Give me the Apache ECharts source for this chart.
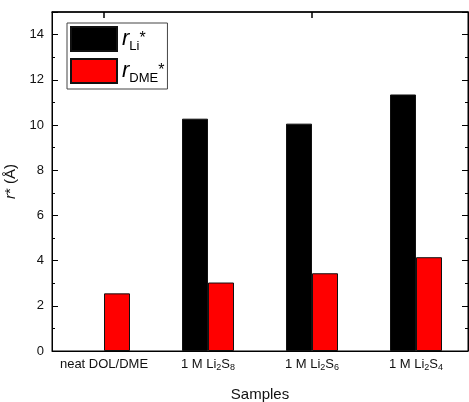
<!DOCTYPE html>
<html><head><meta charset="utf-8">
<script src="https://cdn.jsdelivr.net/npm/echarts@6/dist/echarts.min.js"></script>
<style>html,body{margin:0;padding:0;background:#fff}#c{width:469px;height:402px}</style>
</head><body><div id="c"></div>
<script>
const categories = ['neat DOL/DME', '1 M Li{s|2}S{s|8}', '1 M Li{s|2}S{s|6}', '1 M Li{s|2}S{s|4}'];
const rLi = [0, 10.28, 10.06, 11.35];
const rDME = [2.55, 3.03, 3.44, 4.15];
const yMajorTicks = [0, 2, 4, 6, 8, 10, 12, 14];

const chart = echarts.init(document.getElementById('c'));
const font = 'Liberation Sans, Arial, sans-serif';
const gridRect = {left: 52, right: 1, top: 12, bottom: 51, containLabel: false, outerBoundsMode: 'none'};
const legendNames = {
  rLi: '{i|r}{sub|Li}{sup|*}',
  rDME: '{i|r}{sub|DME}{sup|*}'
};
const barData = arr => arr.map(v => v === 0 ? {value: v, itemStyle: {borderWidth: 0}} : v);
chart.setOption({
  animation: false,
  textStyle: {fontFamily: font},
  grid: [
    Object.assign({show: true, borderColor: '#000', borderWidth: 1, backgroundColor: 'transparent'}, gridRect),
    Object.assign({}, gridRect)
  ],
  legend: {
    left: 67, top: 23, orient: 'vertical',
    padding: [2, 3, 4, 3], itemGap: 4,
    itemWidth: 46, itemHeight: 24, icon: 'rect',
    borderColor: '#444', borderWidth: 1,
    data: ['rLi', 'rDME'],
    formatter: n => legendNames[n],
    textStyle: {
      color: '#000', fontFamily: font,
      rich: {
        i: {fontSize: 22, fontStyle: 'italic', lineHeight: 28, verticalAlign: 'middle', fontFamily: font, color: '#000'},
        sub: {fontSize: 13, lineHeight: 13, verticalAlign: 'bottom', fontFamily: font, color: '#000'},
        sup: {fontSize: 16, lineHeight: 20, verticalAlign: 'top', padding: [6, 0, 0, 0], fontFamily: font, color: '#000'}
      }
    }
  },
  xAxis: [{
    gridIndex: 0, type: 'category', data: categories, position: 'bottom',
    axisLine: {onZero: false, lineStyle: {color: '#000', width: 1}},
    axisTick: {show: false},
    axisLabel: {
      fontSize: 13, color: '#111', margin: 6, interval: 0, lineHeight: 15,
      rich: {s: {fontSize: 9, verticalAlign: 'bottom', lineHeight: 8, padding: [10, 0, 0, 0], color: '#111'}}
    },
    name: 'Samples', nameLocation: 'middle', nameGap: 36,
    nameTextStyle: {fontSize: 15, color: '#111'}
  }, {
    gridIndex: 0, type: 'category', data: categories, position: 'top',
    axisLine: {show: true, onZero: false, lineStyle: {color: '#000', width: 1.5}},
    axisTick: {show: true, inside: true, length: 6, alignWithLabel: true, lineStyle: {color: '#000', width: 1.5}},
    axisLabel: {show: false}
  }, {
    gridIndex: 1, type: 'category', data: categories, show: false
  }],
  yAxis: [{
    gridIndex: 0, type: 'value', min: 0, max: 15, interval: 2, position: 'left',
    axisLine: {show: true, onZero: false, lineStyle: {color: '#000', width: 1}},
    axisTick: {show: true, inside: true, length: 6, lineStyle: {color: '#000'}},
    axisLabel: {fontSize: 13, color: '#111', margin: 8,
      formatter: v => yMajorTicks.indexOf(v) >= 0 ? String(v) : ''},
    splitLine: {show: false},
    name: '{i|r}* (Å)', nameLocation: 'middle', nameGap: 34,
    nameTextStyle: {fontSize: 15, color: '#111', rich: {i: {fontSize: 15, fontStyle: 'italic', color: '#111'}}}
  }, {
    gridIndex: 0, type: 'value', min: 0, max: 15, interval: 2, position: 'right',
    axisLine: {show: true, onZero: false, lineStyle: {color: '#000', width: 1}},
    axisTick: {show: true, inside: true, length: 6, lineStyle: {color: '#000'}},
    axisLabel: {show: false}, splitLine: {show: false}
  }, {
    gridIndex: 1, type: 'value', min: 0, max: 15, interval: 1, position: 'left',
    axisLine: {show: false},
    axisTick: {show: true, inside: true, length: 3, lineStyle: {color: '#000'}},
    axisLabel: {show: false}, splitLine: {show: false}
  }, {
    gridIndex: 1, type: 'value', min: 0, max: 15, interval: 1, position: 'right',
    axisLine: {show: false},
    axisTick: {show: true, inside: true, length: 3, lineStyle: {color: '#000'}},
    axisLabel: {show: false}, splitLine: {show: false}
  }],
  series: [{
    name: 'rLi', type: 'bar', xAxisIndex: 0, yAxisIndex: 0, data: barData(rLi),
    barWidth: '25%', barGap: '0%',
    itemStyle: {color: '#000', borderColor: '#111', borderWidth: 1}
  }, {
    name: 'rDME', type: 'bar', xAxisIndex: 0, yAxisIndex: 0, data: barData(rDME),
    barWidth: '25%', barGap: '0%',
    itemStyle: {color: '#ff0000', borderColor: '#111', borderWidth: 1}
  }]
});
</script></body></html>
